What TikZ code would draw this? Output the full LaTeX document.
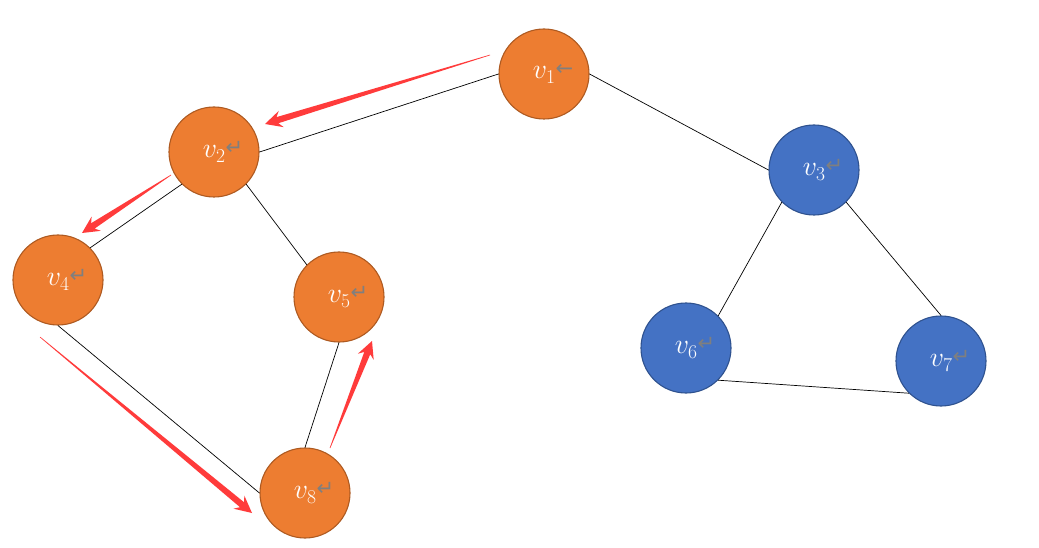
\documentclass[tikz,border=0pt]{standalone}
\usepackage{fix-cm}
\usepackage{fontspec}
\usetikzlibrary{calc}
\newfontfamily\symfont{DejaVu Sans}
\definecolor{orfill}{HTML}{ED7D31}
\definecolor{ordraw}{HTML}{AE5A21}
\definecolor{blfill}{HTML}{4472C4}
\definecolor{bldraw}{HTML}{2F528F}
\definecolor{redarr}{HTML}{FF3B3B}
\definecolor{markgray}{HTML}{7F7F7F}
\newcommand\myretmark{{\symfont\fontsize{21}{21}\selectfont\textcolor{markgray}{\raisebox{3pt}{↵}}}}
\newcommand\myleftmark{{\symfont\fontsize{21}{21}\selectfont\textcolor{markgray}{\raisebox{3pt}{←}}}}
\newcommand\vlab[2]{\hspace{18pt}{\fontsize{28}{28}\selectfont$v_{#1}$}\hspace{0pt}#2}
\newcommand\taparrow[2]{%
  \fill[redarr] let \p1=(#1), \p2=(#2), \n1={atan2(\y2-\y1,\x2-\x1)} in
    ($(#1)+(\n1+90:0.3pt)$) -- ($(#2)+(\n1+180:13pt)+(\n1+90:3.2pt)$)
    -- ($(#2)+(\n1+180:17pt)+(\n1+90:8.5pt)$) -- (#2)
    -- ($(#2)+(\n1+180:17pt)+(\n1-90:8.5pt)$) -- ($(#2)+(\n1+180:13pt)+(\n1-90:3.2pt)$)
    -- ($(#1)+(\n1-90:0.3pt)$) -- cycle;}
\tikzset{
  vnode/.style={circle, minimum size=90pt, inner sep=0pt, line width=1.1pt, text=white},
  onode/.style={vnode, fill=orfill, draw=ordraw},
  bnode/.style={vnode, fill=blfill, draw=bldraw},
  edge/.style={draw=black, line width=0.7pt}
}
\begin{document}
\begin{tikzpicture}[x=1pt,y=-1pt]
\useasboundingbox[fill=white] (0,0) rectangle (1039,548);
\node[onode] (v1) at (544,74) {\vlab{1}{\myleftmark}};
\node[onode] (v2) at (214,152) {\vlab{2}{\myretmark}};
\node[bnode] (v3) at (814,170) {\vlab{3}{\myretmark}};
\node[onode] (v4) at (58,280) {\vlab{4}{\myretmark}};
\node[onode] (v5) at (339,297) {\vlab{5}{\myretmark}};
\node[bnode] (v6) at (686,348) {\vlab{6}{\myretmark}};
\node[bnode] (v7) at (941,361) {\vlab{7}{\myretmark}};
\node[onode] (v8) at (305,493) {\vlab{8}{\myretmark}};
\draw[edge] (v1.180) -- (v2.0);
\draw[edge] (v1.0) -- (v3.180);
\draw[edge] (v2.-135) -- (v4.45);
\draw[edge] (v2.-45) -- (v5.135);
\draw[edge] (v4.-90) -- (v8.180);
\draw[edge] (v5.-90) -- (v8.90);
\draw[edge] (v3.-135) -- (v6.45);
\draw[edge] (v3.-45) -- (v7.90);
\draw[edge] (v6.-45) -- (v7.-135);
% red tapered arrows
\coordinate (a1s) at (490,55);  \coordinate (a1e) at (265,124);
\coordinate (a2s) at (171,175); \coordinate (a2e) at (82,233);
\coordinate (a3s) at (40,337);  \coordinate (a3e) at (252,513);
\coordinate (a4s) at (330,448); \coordinate (a4e) at (372,341);
\taparrow{a1s}{a1e}
\taparrow{a2s}{a2e}
\taparrow{a3s}{a3e}
\taparrow{a4s}{a4e}
\end{tikzpicture}
\end{document}
